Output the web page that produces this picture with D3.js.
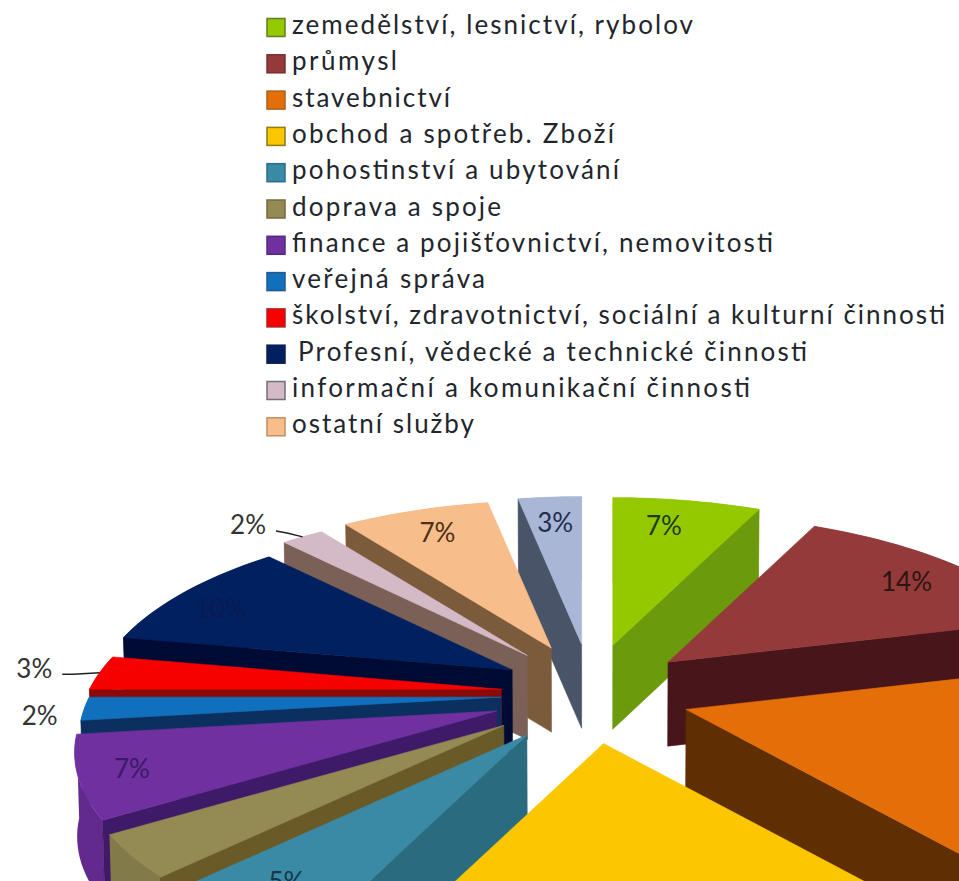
<!DOCTYPE html>
<html lang="cs">
<head>
<meta charset="utf-8">
<title>Odvětví</title>
<script src="https://cdn.jsdelivr.net/npm/d3@7"></script>
<style>
html,body{margin:0;padding:0;background:#fff;overflow:hidden}
svg{display:block}
</style>
</head>
<body>
<svg id="chart" width="959" height="881"></svg>
<script>
// ---- data ----
const categories = [
  "zemedělství, lesnictví, rybolov",
  "průmysl",
  "stavebnictví",
  "obchod a spotřeb. Zboží",
  "pohostinství a ubytování",
  "doprava a spoje",
  "finance a pojišťovnictví, nemovitosti",
  "veřejná správa",
  "školství, zdravotnictví, sociální a kulturní činnosti",
  " Profesní, vědecké a technické činnosti",
  "informační a komunikační činnosti",
  "ostatní služby",
  ""
];
// share of each slice, in per cent (the 13th slice has no legend entry)
const values = [7, 14, 18, 18, 5.4, 3.6, 7, 2, 3, 10, 2, 7, 3];

// ---- styles ----
const topColors  = ["#94c900","#953a3a","#e46f08","#fcc600","#3a8aa6","#948a54","#7030a0","#1170bd","#f70000","#002060","#d4b9c6","#f7bd8a","#a9b6d6"];
const wallColors = ["#6b9a0c","#47151a","#5f2e02","#b88f00","#2a6b80","#6a5a28","#3f1a68","#0b2f5e","#8a0a0a","#000b33","#7a6056","#7c5b3c","#4a5468"];
const swatchStroke = ["#5f7f20","#7a3030","#a8641c","#8f7a10","#2c6c88","#7a6838","#4f2a80","#205a90","#b02020","#101c50","#707078","#c09060","#8090b0"];
// how far each slice is pulled out, relative to the common explosion
const explodeFactor = [1,1,1,1,1.12,1.12,1,0.9,0.9,0.9,1,1,1];
// which label is drawn, how far out along its slice, and any angular nudge (degrees)
const labelRadius = [0.79,0.81,null,null,0.85,null,0.88,1.10,1.17,0.85,1.18,0.81,0.80];
const labelNudge  = [-2,2,0,0,0.7,0,0,-1.6,0.5,-3,-3.5,0,0];
const labelFill   = ["#1a3a10","#2a1510","#222","#222","#14384a","#222","#3a1a66","#333","#333","#0a1a50","#333","#4a3018","#222c50"];
const legendWidths = [401,105,158,322,327,209,481,193,653,509,458,182];
const leaders = [8,10];

// ---- layout ----
const width = 959, height = 881;
const cx = 591, cy = 694;     // pie centre, on screen
const explodeX = 100, explodeY = 50;
const radiusX = 412, radiusY = 180;
const perspective = 0.22;
const depth = 84, converge = 0.995;

const svg = d3.select("#chart");
const scaleX = d3.scaleLinear().domain([-1, 1]).range([-radiusX, radiusX]);
const scaleY = d3.scaleLinear().domain([-1, 1]).range([radiusY, -radiusY]);

const pie = d3.pie().sort(null).value(d => d);
const arcs = pie(values).map((a, i) => {
  const mid = (a.startAngle + a.endAngle) / 2;
  return {i, start: a.startAngle, end: a.endAngle, mid,
          ax: cx + explodeFactor[i] * explodeX * Math.sin(mid),
          ay: cy - explodeY * Math.cos(mid)};
});

// a point at radial fraction r and angle t of the slice's own apex
function project(a, r, t) {
  const X = r * Math.sin(t), Z = r * Math.cos(t), s = 1 / (1 + perspective * Z);
  return [a.ax + scaleX(X) * s, a.ay + scaleY(Z) * s];
}
const down = p => [cx + (p[0] - cx) * converge, p[1] + depth];
const line = d3.line();

function rim(a) {
  const n = Math.max(4, Math.ceil((a.end - a.start) / 0.03));
  return d3.range(n + 1).map(k => project(a, 1, a.start + (a.end - a.start) * k / n));
}

const order = arcs.slice().sort((p, q) => Math.cos(q.mid) - Math.cos(p.mid));
const gPie = svg.append("g");

order.forEach(a => {
  const g = gPie.append("g");
  const apex = [a.ax, a.ay];
  const r = rim(a);
  // outer curved wall
  g.append("path")
    .attr("d", line(r.concat(r.slice().reverse().map(down))) + "Z")
    .attr("fill", d3.color(topColors[a.i]).darker(0.35));
  // the radial wall that faces the viewer
  [[a.start, Math.sin(a.start) < -1e-6], [a.end, Math.sin(a.end) > 1e-6]].forEach(([t, vis]) => {
    if (!vis) return;
    const o = project(a, 1, t);
    g.append("path")
      .attr("d", line([apex, o, down(o), down(apex)]) + "Z")
      .attr("fill", wallColors[a.i])
      .attr("stroke", wallColors[a.i]).attr("stroke-width", 0.6);
  });
  // top face
  g.append("path")
    .attr("d", line([apex].concat(r)) + "Z")
    .attr("fill", topColors[a.i])
    .attr("stroke", topColors[a.i]).attr("stroke-width", 0.6);
});

// ---- data labels ----
const labelFont = "Lato, 'Open Sans', sans-serif";
arcs.forEach(a => {
  const rr = labelRadius[a.i];
  if (rr === null) return;
  const p = project(a, rr, a.mid + labelNudge[a.i] * Math.PI / 180);
  svg.append("text")
    .attr("x", p[0]).attr("y", p[1])
    .attr("text-anchor", "middle").attr("dy", "0.36em")
    .attr("font-family", labelFont).attr("font-size", 26)
    .attr("fill", labelFill[a.i])
    .text(Math.round(values[a.i]) + "%");
  if (leaders.includes(a.i)) {
    const o = project(a, 1, a.mid);
    const start = [p[0] + 28, p[1] + 6];
    const knee = [Math.min(start[0] + 11, o[0]), start[1] + (a.i === 10 ? 2 : 0)];
    svg.append("path")
      .attr("d", line([start, knee, o]))
      .attr("fill", "none").attr("stroke", "#222").attr("stroke-width", 1.5);
  }
});

// ---- legend ----
const legendX = 267, legendTextX = 292, legendTop = 27.5, legendStep = 36.3;
const rowY = d3.scaleLinear().domain([0, 1]).range([legendTop, legendTop + legendStep]);
const legend = svg.append("g");
categories.forEach((c, i) => {
  if (!c) return;
  const y = rowY(i);
  legend.append("rect")
    .attr("x", legendX).attr("y", y - 9).attr("width", 18).attr("height", 18)
    .attr("fill", topColors[i]).attr("stroke", swatchStroke[i]).attr("stroke-width", 1.5);
  legend.append("text")
    .attr("x", legendTextX + (c.startsWith(" ") ? 6 : 0)).attr("y", y + 6.5)
    .attr("font-family", "Lato, sans-serif").attr("font-size", 26)
    .attr("fill", "#22262c")
    .attr("textLength", legendWidths[i]).attr("lengthAdjust", "spacing")
    .text(c.trim());
});
</script>
</body>
</html>
